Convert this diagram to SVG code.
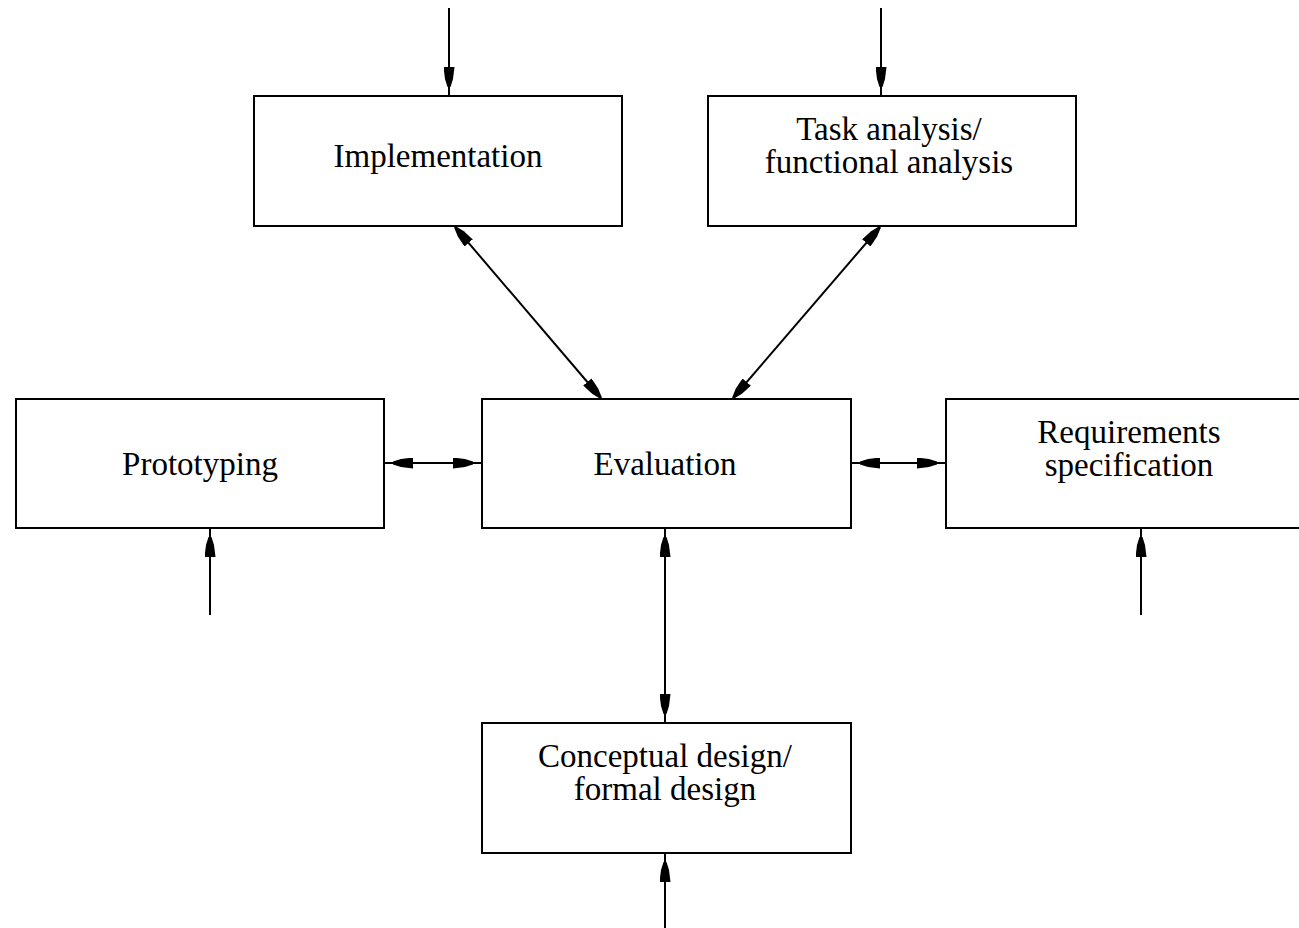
<svg xmlns="http://www.w3.org/2000/svg" width="1299" height="928" viewBox="0 0 1299 928">
<style>
.box{fill:#fff;stroke:#000;stroke-width:2}
.lbl{font-family:"Liberation Serif","Times New Roman",serif;font-size:33px;fill:#000;text-anchor:middle}
.c{stroke:#000;stroke-width:2;fill:none}
</style>
<defs>
<marker id="ah" viewBox="0 0 29 11" refX="29" refY="5.5" markerWidth="29" markerHeight="11" markerUnits="userSpaceOnUse" orient="auto-start-reverse">
<path d="M0,0 L12,1.5 L20,4 L20,7 L12,9.5 L0,11 Z" fill="#000"/>
</marker>
<marker id="ahd" viewBox="0 0 21 11" refX="21" refY="5.5" markerWidth="21" markerHeight="11" markerUnits="userSpaceOnUse" orient="auto-start-reverse">
<path d="M0,0 L12,1.5 L21,4.5 L21,6.5 L12,9.5 L0,11 Z" fill="#000"/>
</marker>
</defs>
<rect width="1299" height="928" fill="#fff"/>
<g id="connectors">
<line class="c" x1="449" y1="8" x2="449" y2="96" marker-end="url(#ah)"/>
<line class="c" x1="881" y1="8" x2="881" y2="96" marker-end="url(#ah)"/>
<line class="c" x1="455" y1="227" x2="601" y2="398" marker-start="url(#ahd)" marker-end="url(#ahd)"/>
<line class="c" x1="880" y1="227" x2="733" y2="398" marker-start="url(#ahd)" marker-end="url(#ahd)"/>
<line class="c" x1="384" y1="463" x2="482" y2="463" marker-start="url(#ah)" marker-end="url(#ah)"/>
<line class="c" x1="851" y1="463" x2="946" y2="463" marker-start="url(#ah)" marker-end="url(#ah)"/>
<line class="c" x1="665" y1="528" x2="665" y2="723" marker-start="url(#ah)" marker-end="url(#ah)"/>
<line class="c" x1="210" y1="615" x2="210" y2="528" marker-end="url(#ah)"/>
<line class="c" x1="1141" y1="615" x2="1141" y2="528" marker-end="url(#ah)"/>
<line class="c" x1="665" y1="928" x2="665" y2="853" marker-end="url(#ah)"/>
</g>
<g id="implementation">
<rect class="box" x="254" y="96" width="368" height="130"/>
<text class="lbl" x="438" y="167">Implementation</text>
</g>
<g id="task-analysis">
<rect class="box" x="708" y="96" width="368" height="130"/>
<text class="lbl" x="889" y="140">Task analysis/</text>
<text class="lbl" x="889" y="173">functional analysis</text>
</g>
<g id="prototyping">
<rect class="box" x="16" y="399" width="368" height="129"/>
<text class="lbl" x="200" y="475">Prototyping</text>
</g>
<g id="evaluation">
<rect class="box" x="482" y="399" width="369" height="129"/>
<text class="lbl" x="665" y="475">Evaluation</text>
</g>
<g id="requirements">
<rect class="box" x="946" y="399" width="370" height="129"/>
<text class="lbl" x="1129" y="443">Requirements</text>
<text class="lbl" x="1129" y="476">specification</text>
</g>
<g id="conceptual-design">
<rect class="box" x="482" y="723" width="369" height="130"/>
<text class="lbl" x="665" y="767">Conceptual design/</text>
<text class="lbl" x="665" y="800">formal design</text>
</g>
</svg>
